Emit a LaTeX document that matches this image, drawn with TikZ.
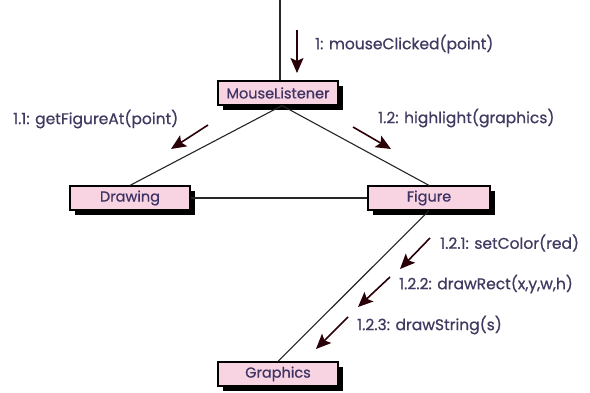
\documentclass[tikz,border=0pt]{standalone}
\usepackage{fontspec}
\setmainfont{Poppins}
\newfontfamily\lblfont{Poppins}[FakeBold=0.6]
\usetikzlibrary{arrows.meta,shadows}
\definecolor{boxfill}{HTML}{F8D3E2}
\definecolor{boxtext}{HTML}{3E3464}
\definecolor{msgtext}{HTML}{403A60}
\definecolor{msgarrow}{HTML}{2A0008}
\begin{document}
\begin{tikzpicture}[x=1pt,y=-1pt,
  objbox/.style={draw=black,line width=1.2pt,fill=boxfill,text=boxtext,
    minimum height=24pt,inner sep=0pt,font=\lblfont\fontsize{14.5}{15}\selectfont,
    drop shadow={shadow xshift=5pt,shadow yshift=-5pt,fill=black,opacity=1}},
  link/.style={draw=black!85,line width=1.1pt},
  msg/.style={draw=msgarrow,line width=1.6pt,-{Stealth[length=15pt,width=13pt,inset=3pt]}},
  msglabel/.style={text=msgtext,anchor=west,inner sep=0pt,font=\lblfont\fontsize{15.5}{16}\selectfont}]
\useasboundingbox[fill=white] (0,0) rectangle (590,393);

% objects
\node[objbox,minimum width=120pt] (ml) at (278,93) {MouseListener};
\node[objbox,minimum width=120pt] (dr) at (130,198) {Drawing};
\node[objbox,minimum width=122pt] (fg) at (429,198) {Figure};
\node[objbox,minimum width=120pt] (gr) at (278,374) {Graphics};
\coordinate (entry) at (280,0);

% links
\draw[link] (entry) -- (ml.north -| entry);
\draw[link] (ml.south) ++(4,0) coordinate (mlb) -- (dr.north);
\draw[link] (mlb) -- (fg.north);
\draw[link] (dr.east) -- (fg.west);
\draw[link] (fg.south) -- (gr.north);

% messages
\coordinate (a1s) at (297,30); \coordinate (a1e) at (297,73);
\draw[msg] (a1s) -- (a1e);
\node[msglabel] (l1) at (315,44) {1: mouseClicked(point)};

\coordinate (a11s) at (208,125); \coordinate (a11e) at (171,149);
\draw[msg] (a11s) -- (a11e);
\node[msglabel] (l11) at (13,119) {1.1: getFigureAt(point)};

\coordinate (a12s) at (353,127); \coordinate (a12e) at (391,149);
\draw[msg] (a12s) -- (a12e);
\node[msglabel] (l12) at (378,118) {1.2: highlight(graphics)};

\coordinate (a121s) at (430,238); \coordinate (a121e) at (400,269);
\draw[msg] (a121s) -- (a121e);
\node[msglabel] (l121) at (440,243) {1.2.1: setColor(red)};

\coordinate (a122s) at (390,277); \coordinate (a122e) at (358,307);
\draw[msg] (a122s) -- (a122e);
\node[msglabel] (l122) at (399,284) {1.2.2: drawRect(x,y,w,h)};

\coordinate (a123s) at (348,317); \coordinate (a123e) at (316,349);
\draw[msg] (a123s) -- (a123e);
\node[msglabel] (l123) at (357,325) {1.2.3: drawString(s)};
\end{tikzpicture}
\end{document}
